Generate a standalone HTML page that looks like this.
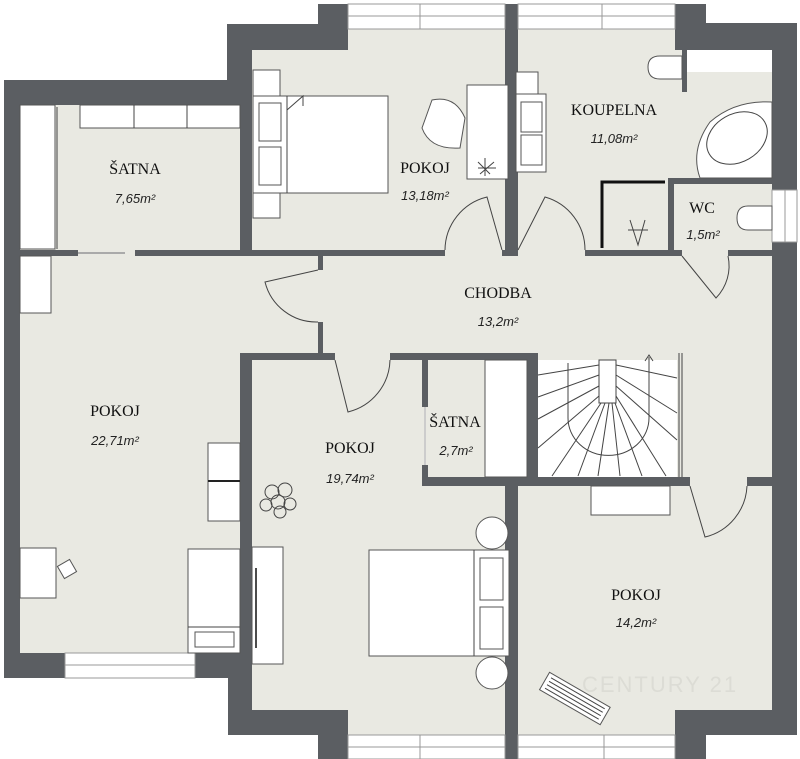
<!DOCTYPE html>
<html><head><meta charset="utf-8"><style>
html,body{margin:0;padding:0;background:#fff;}
svg{display:block}
.n{font-family:"Liberation Serif",serif;font-size:16px;fill:#111;text-anchor:middle}
.a{font-family:"Liberation Sans",sans-serif;font-size:13px;font-style:italic;fill:#222;text-anchor:middle}
.f{fill:#fff;stroke:#555;stroke-width:1}
.w{fill:#5b5e62}
.l{stroke:#444;stroke-width:1;fill:none}
</style></head><body>
<svg width="800" height="759" viewBox="0 0 800 759" xmlns="http://www.w3.org/2000/svg">
<g fill="#e9e9e2">
<rect x="20" y="105" width="760" height="548"/>
<rect x="252" y="29" width="430" height="706"/>
<rect x="682" y="50" width="90" height="660"/>
</g>
<g class="w">
<rect x="4" y="80" width="16" height="598"/>
<rect x="4" y="80" width="248" height="25"/>
<rect x="227" y="24" width="25" height="81"/>
<rect x="227" y="24" width="121" height="26"/>
<rect x="318" y="4" width="30" height="46"/>
<rect x="505" y="4" width="13" height="246"/>
<rect x="675" y="4" width="31" height="46"/>
<rect x="675" y="23" width="122" height="27"/>
<rect x="772" y="23" width="25" height="167"/>
<rect x="772" y="242" width="25" height="493"/>
<rect x="682" y="710" width="115" height="25"/>
<rect x="675" y="710" width="31" height="49"/>
<rect x="505" y="486" width="13" height="273"/>
<rect x="509" y="486" width="6" height="249"/>
<rect x="318" y="710" width="30" height="49"/>
<rect x="228" y="710" width="115" height="25"/>
<rect x="228" y="653" width="24" height="82"/>
<rect x="195" y="653" width="57" height="25"/>
<rect x="4" y="653" width="61" height="25"/>
<rect x="240" y="105" width="12" height="151"/>
<rect x="20" y="250" width="58" height="6"/>
<rect x="135" y="250" width="310" height="6"/>
<rect x="502" y="250" width="16" height="6"/>
<rect x="585" y="250" width="97" height="6"/>
<rect x="728" y="250" width="44" height="6"/>
<rect x="668" y="178" width="6" height="78"/>
<rect x="668" y="178" width="104" height="6"/>
<rect x="682" y="50" width="5" height="42"/>
<rect x="318" y="256" width="5" height="14"/>
<rect x="318" y="322" width="5" height="38"/>
<rect x="240" y="353" width="95" height="7"/>
<rect x="390" y="353" width="148" height="7"/>
<rect x="240" y="353" width="12" height="300"/>
<rect x="422" y="353" width="6" height="54"/>
<rect x="422" y="465" width="6" height="21"/>
<rect x="422" y="477" width="268" height="9"/>
<rect x="747" y="477" width="25" height="9"/>
<rect x="527" y="353" width="11" height="130"/>
</g>
<g fill="#fff" stroke="#999" stroke-width="1">
<rect x="348" y="4" width="157" height="25"/><line x1="348" y1="16" x2="505" y2="16"/><line x1="420" y1="4" x2="420" y2="29"/>
<rect x="518" y="4" width="157" height="25"/><line x1="518" y1="16" x2="675" y2="16"/><line x1="602" y1="4" x2="602" y2="29"/>
<rect x="772" y="190" width="25" height="52"/><line x1="785" y1="190" x2="785" y2="242"/>
<rect x="65" y="653" width="130" height="25"/><line x1="65" y1="665" x2="195" y2="665"/>
<rect x="348" y="735" width="157" height="24"/><line x1="348" y1="747" x2="505" y2="747"/><line x1="420" y1="735" x2="420" y2="759"/>
<rect x="518" y="735" width="157" height="24"/><line x1="518" y1="747" x2="675" y2="747"/><line x1="604" y1="735" x2="604" y2="759"/>
<rect x="687" y="50" width="85" height="22" stroke="none"/>
</g>
<rect class="f" x="80" y="105" width="160" height="23"/><line class="l" x1="134" y1="105" x2="134" y2="128"/><line class="l" x1="187" y1="105" x2="187" y2="128"/>
<rect class="f" x="20" y="105" width="35" height="144"/><line class="l" x1="57" y1="107" x2="57" y2="249" stroke="#888" stroke-width="2"/>
<line x1="78" y1="253" x2="125" y2="253" stroke="#aaa" stroke-width="2"/>
<rect class="f" x="253" y="70" width="27" height="26"/><rect class="f" x="253" y="193" width="27" height="25"/>
<rect class="f" x="253" y="96" width="135" height="97"/><line class="l" x1="287" y1="96" x2="287" y2="193"/>
<rect class="f" x="259" y="103" width="22" height="38"/><rect class="f" x="259" y="147" width="22" height="38"/>
<path class="l" d="M287 110 L303 96 L303 106"/>
<rect class="f" x="467" y="85" width="41" height="94"/>
<path class="f" d="M432 100 Q455 95 465 118 L460 148 Q430 150 422 128 Z"/>
<path class="l" d="M478 162 l12 12 M480 174 l14 -12 M485 158 v18 M478 168 h18"/>
<rect class="f" x="516" y="72" width="22" height="22"/><rect class="f" x="516" y="94" width="30" height="78"/>
<rect class="f" x="521" y="102" width="21" height="30"/><rect class="f" x="521" y="135" width="21" height="30"/>
<path class="f" d="M682 56 L660 56 Q648 56 648 67 Q648 79 660 79 L682 79 Z"/>
<path class="f" d="M772 102 L772 178 L700 178 Q690 150 710 122 Q735 100 772 102 Z"/>
<ellipse class="l" cx="737" cy="138" rx="32" ry="24" transform="rotate(-30 737 138)"/>
<path class="f" d="M772 206 L748 206 Q737 206 737 218 Q737 230 748 230 L772 230 Z"/>
<path d="M602 248 L602 182 L665 182" stroke="#111" stroke-width="3" fill="none"/>
<path class="l" d="M630 220 L638 245 L645 220 M628 230 L648 230"/>
<rect class="f" x="20" y="256" width="31" height="57"/>
<rect class="f" x="208" y="443" width="32" height="78"/><line x1="208" y1="481" x2="240" y2="481" stroke="#222" stroke-width="2"/>
<rect class="f" x="20" y="548" width="36" height="50"/>
<rect class="f" x="60" y="562" width="14" height="14" transform="rotate(-30 67 569)"/>
<rect class="f" x="188" y="549" width="52" height="104"/><rect class="f" x="195" y="632" width="39" height="15"/><line class="l" x1="188" y1="627" x2="240" y2="627"/>
<rect class="f" x="252" y="547" width="31" height="117"/><line x1="256" y1="568" x2="256" y2="648" stroke="#111" stroke-width="1.5"/>
<rect class="f" x="369" y="550" width="140" height="106"/><line class="l" x1="474" y1="550" x2="474" y2="656"/>
<rect class="f" x="480" y="558" width="23" height="42"/><rect class="f" x="480" y="607" width="23" height="42"/>
<circle class="f" cx="492" cy="533" r="16"/><circle class="f" cx="492" cy="673" r="16"/>
<g class="l"><circle cx="272" cy="492" r="7"/><circle cx="285" cy="490" r="7"/><circle cx="278" cy="502" r="7"/><circle cx="266" cy="505" r="6"/><circle cx="290" cy="504" r="6"/><circle cx="280" cy="512" r="6"/></g>
<rect class="f" x="485" y="360" width="42" height="117"/>
<rect class="f" x="591" y="486" width="79" height="29"/>
<g transform="rotate(30 574 698)"><rect class="f" x="540" y="688" width="70" height="20"/>
<path class="l" d="M544 692 H606 M544 696 H606 M544 700 H606 M544 704 H606"/></g>
<g class="l" stroke="#666">
<path d="M318 270 L265 282 A53 53 0 0 0 318 322"/>
<path d="M335 360 L348 412 A55 55 0 0 0 390 360"/>
<path d="M502 250 L487 197 A55 55 0 0 0 445 250"/>
<path d="M518 250 L545 197 A55 55 0 0 1 585 250"/>
<path d="M682 256 L716 298 A46 46 0 0 0 728 256"/>
<path d="M690 486 L705 537 A55 55 0 0 0 747 486"/>
<path d="M425 407 V465" stroke="#ccc" stroke-width="2"/>
</g>
<rect x="538" y="360" width="139" height="117" fill="#fff"/>
<rect x="599" y="360" width="17" height="43" fill="#fff" stroke="#444"/>
<g class="l">
<path d="M568 363 V418 A40 37 0 0 0 649 418 V357 M645 361 L649 355 L653 361"/>
<line x1="599" y1="365" x2="538" y2="375"/><line x1="599" y1="375" x2="538" y2="397"/><line x1="599" y1="386" x2="538" y2="419"/><line x1="599" y1="396" x2="538" y2="448"/>
<line x1="601" y1="403" x2="552" y2="476"/><line x1="605" y1="403" x2="578" y2="476"/><line x1="609" y1="403" x2="598" y2="476"/><line x1="612" y1="403" x2="620" y2="476"/><line x1="615" y1="403" x2="642" y2="476"/>
<line x1="616" y1="396" x2="666" y2="476"/><line x1="616" y1="386" x2="677" y2="440"/><line x1="616" y1="375" x2="677" y2="413"/><line x1="616" y1="365" x2="677" y2="378"/>
<line x1="679" y1="353" x2="679" y2="477"/><line x1="682" y1="353" x2="682" y2="477"/>
</g>
<text class="n" x="135" y="174">ŠATNA</text><text class="a" x="135" y="203">7,65m²</text>
<text class="n" x="425" y="173">POKOJ</text><text class="a" x="425" y="200">13,18m²</text>
<text class="n" x="614" y="115">KOUPELNA</text><text class="a" x="614" y="143">11,08m²</text>
<text class="n" x="702" y="213">WC</text><text class="a" x="703" y="239">1,5m²</text>
<text class="n" x="498" y="298">CHODBA</text><text class="a" x="498" y="326">13,2m²</text>
<text class="n" x="115" y="416">POKOJ</text><text class="a" x="115" y="445">22,71m²</text>
<text class="n" x="350" y="453">POKOJ</text><text class="a" x="350" y="483">19,74m²</text>
<text class="n" x="455" y="427">ŠATNA</text><text class="a" x="456" y="455">2,7m²</text>
<text class="n" x="636" y="600">POKOJ</text><text class="a" x="636" y="627">14,2m²</text>
<text x="660" y="692" font-family="Liberation Sans,sans-serif" font-size="22" fill="#dcdcd5" text-anchor="middle" letter-spacing="2">CENTURY 21</text>
</svg>
</body></html>
